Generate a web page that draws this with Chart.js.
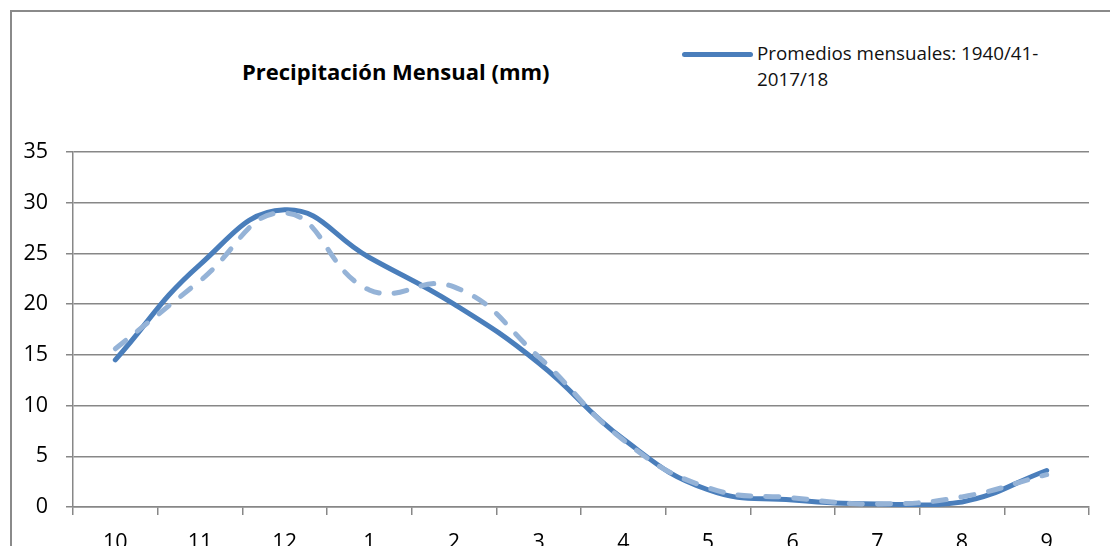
<!DOCTYPE html>
<html>
<head>
<meta charset="utf-8">
<script src="https://cdn.jsdelivr.net/npm/chart.js@4.4.0/dist/chart.umd.min.js"></script>
<style>
  html, body { margin: 0; padding: 0; background: #fff; overflow: hidden; }
  #wrap { position: relative; width: 1110px; height: 546px; font-family: "Open Sans", sans-serif; }
  #frame { position: absolute; left: 10px; top: 10px; width: 1200px; height: 600px; border-left: 2px solid #8a8a8a; border-top: 2px solid #8a8a8a; }
  #title { position: absolute; left: 242px; top: 56px; font-size: 22px; font-weight: bold; color: #000; white-space: nowrap; }
  #legend-line { position: absolute; left: 682px; top: 52px; width: 71px; height: 5px; background: #4a7ebb; border-radius: 3px; }
  #legend-text { position: absolute; left: 757px; top: 40px; font-size: 18.8px; line-height: 26px; color: #111; white-space: nowrap; }
  canvas { position: absolute; left: 0; top: 0; }
</style>
</head>
<body>
<div id="wrap">
  <div id="frame"></div>
  <div id="title">Precipitación Mensual (mm)</div>
  <div id="legend-line"></div>
  <div id="legend-text">Promedios mensuales: 1940/41-<br>2017/18</div>
  <canvas id="chart" width="1110" height="546"></canvas>
</div>
<script>
// months of the hydrological year (Oct -> Sep)
const months = ['10', '11', '12', '1', '2', '3', '4', '5', '6', '7', '8', '9'];
// long-term monthly averages (solid line)
const promedios = [14.5, 23.9, 29.3, 24.6, 20.0, 14.2, 6.7, 1.7, 0.7, 0.3, 0.5, 3.6];
// second series (dashed, not in legend)
const serieB = [15.6, 22.3, 29.0, 21.4, 21.7, 14.8, 6.6, 1.9, 0.9, 0.3, 1.0, 3.2];
const yTicks = [0, 5, 10, 15, 20, 25, 30, 35];

const tickFont = { family: 'Open Sans', size: 21.5 };

new Chart(document.getElementById('chart').getContext('2d'), {
  type: 'line',
  data: {
    labels: months,
    datasets: [
      {
        label: 'serie B',
        data: serieB,
        borderColor: '#95b3d7',
        borderWidth: 5,
        borderDash: [13, 15],
        borderCapStyle: 'round',
        tension: 0.45,
        pointRadius: 0,
        fill: false,
        order: 0
      },
      {
        label: 'Promedios mensuales: 1940/41-2017/18',
        data: promedios,
        borderColor: '#4a7ebb',
        borderWidth: 5,
        borderCapStyle: 'round',
        tension: 0.45,
        pointRadius: 0,
        fill: false,
        order: 1
      }
    ]
  },
  options: {
    responsive: false,
    animation: false,
    layout: { padding: { left: 0, top: 152, right: 21, bottom: 0 } },
    plugins: {
      legend: { display: false },
      title: { display: false },
      tooltip: { enabled: false }
    },
    scales: {
      x: {
        offset: true,
        grid: { display: true, drawOnChartArea: false, offset: true, tickLength: 8, color: '#878787', lineWidth: 1.5 },
        border: { color: '#878787', width: 1.5 },
        ticks: { color: '#000', font: { family: 'Open Sans', size: 21.5, lineHeight: 1.45 }, padding: 12, maxRotation: 0 },
        afterFit: (s) => { s.height = 39; }
      },
      y: {
        min: 0,
        max: 35,
        afterBuildTicks: (s) => { s.ticks = yTicks.map(v => ({ value: v })); },
        grid: { color: '#878787', lineWidth: 1.5, tickLength: 7 },
        border: { color: '#878787', width: 1.5 },
        ticks: { color: '#000', font: tickFont, padding: 18 },
        afterFit: (s) => { s.width = 73; }
      }
    }
  }
});
</script>
</body>
</html>
